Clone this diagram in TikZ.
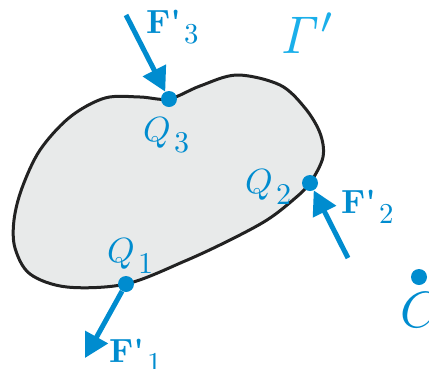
\documentclass[tikz,border=0pt]{standalone}
\usetikzlibrary{arrows.meta}
\definecolor{qblue}{HTML}{008CCF}
\definecolor{gblue}{HTML}{1AAFEA}
\definecolor{blobfill}{HTML}{E8EAEA}
\definecolor{blobline}{HTML}{222222}
\newcommand{\lsub}[3][3.5]{\scalebox{#1}{#2\kern0.9pt\raisebox{-3.2pt}{\scalebox{0.86}{#3}}}}
\begin{document}
\begin{tikzpicture}[x=1pt,y=-1pt,
  dot/.style={circle,fill=qblue,inner sep=0pt,minimum size=16pt},
  force/.style={draw=qblue,line width=5pt,-{Triangle[length=24pt,width=25pt]}},
  lab/.style={text=qblue,inner sep=0pt,anchor=base west,font=\fontsize{10}{10}\selectfont},
  biglab/.style={inner sep=0pt,anchor=base west,font=\fontsize{10}{10}\selectfont}]
\useasboundingbox (0,0) rectangle (429,368);
\draw[blobline,fill=blobfill,line width=3pt] plot[smooth cycle,tension=0.55] coordinates {
 (169,99) (200,86) (237,75) (280,85) (305,108) (320,133) (323,157) (310,183)
 (293,200) (267,220) (230,240) (185,261) (126,284) (67,287) (30,274) (15,248)
 (14,220) (22,188) (40,150) (70,117) (105,98) (140,97)};
\node[dot] (q1) at (126,284) {};
\node[dot] (q2) at (310,183) {};
\node[dot] (q3) at (169,99) {};
\node[dot] (c) at (419,277) {};
\coordinate (f1tip) at (85,358);
\coordinate (f2tail) at (348,258);
\coordinate (f3tail) at (126,15);
\draw[force] (q1) -- (f1tip);
\draw[force] (f2tail) -- (q2);
\draw[force] (f3tail) -- (q3);
\node[lab] (lq1) at (107,262) {\lsub{$Q$}{1}};
\node[lab] (lq2) at (245,193) {\lsub{$Q$}{2}};
\node[lab] (lq3) at (143,141) {\lsub{$Q$}{3}};
\node[lab] (lf1) at (109,362) {\lsub[3.35]{\textbf{F\textquotesingle}}{1}};
\node[lab] (lf2) at (341,213) {\lsub[3.35]{\textbf{F\textquotesingle}}{2}};
\node[lab] (lf3) at (146,33) {\lsub[3.35]{\textbf{F\textquotesingle}}{3}};
\node[biglab,text=gblue] (gam) at (280,53) {\scalebox{5.3}{$\mathit{\Gamma}'$}};
\node[biglab,text=qblue] (lc) at (400,327) {\scalebox{5.1}{$C$}};
\end{tikzpicture}
\end{document}
